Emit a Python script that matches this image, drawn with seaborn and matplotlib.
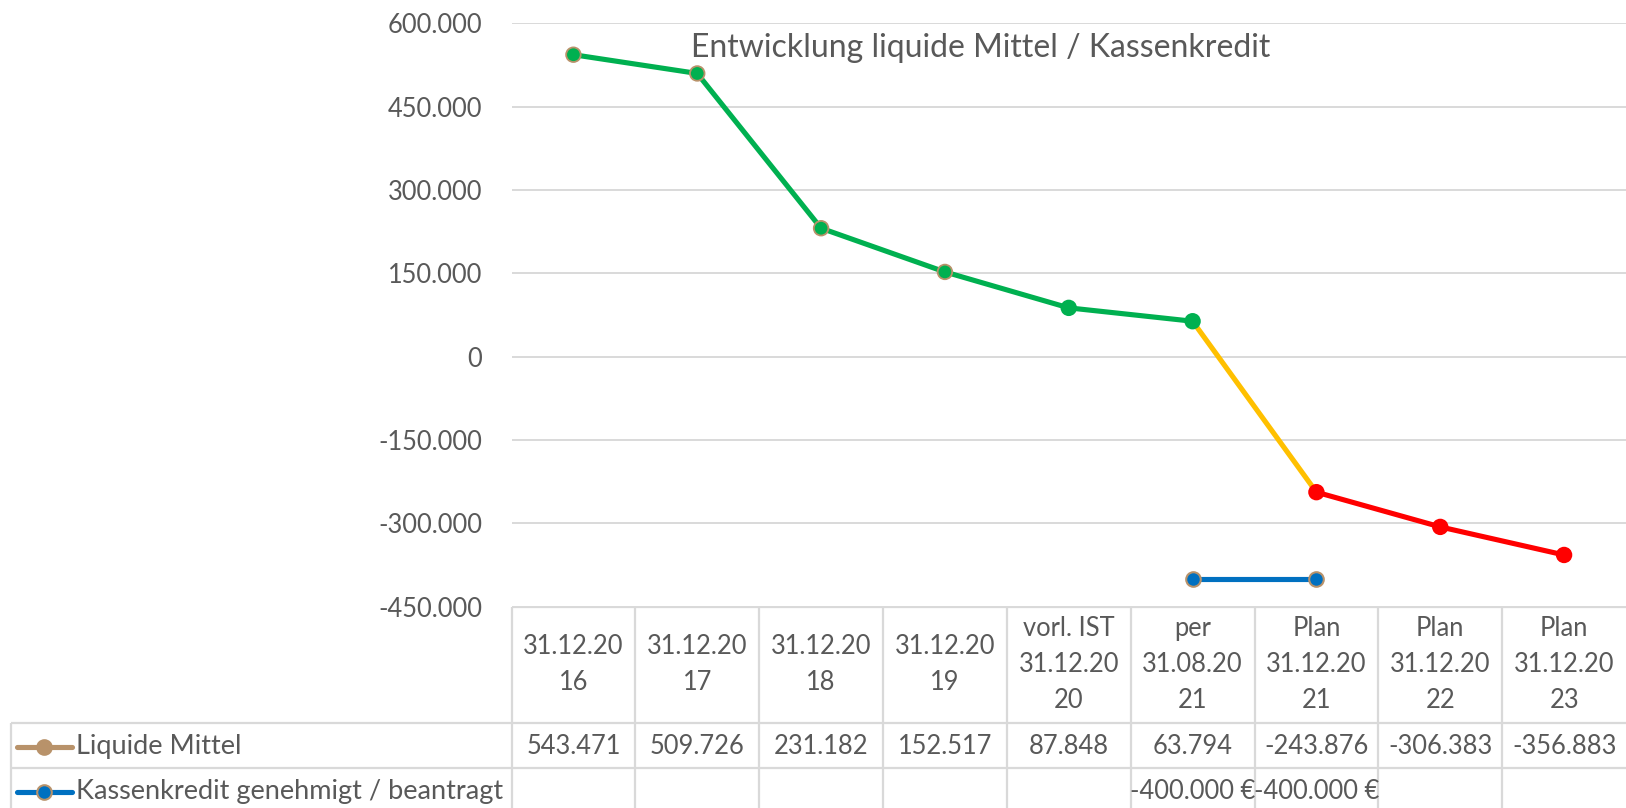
import numpy as np
import pandas as pd
import seaborn as sns
import matplotlib
matplotlib.use("Agg")
import matplotlib.pyplot as plt
from matplotlib.ticker import FuncFormatter, FixedLocator

# ---------------- data ----------------
categories = [
    "31.12.20\n16", "31.12.20\n17", "31.12.20\n18", "31.12.20\n19",
    "vorl. IST\n31.12.20\n20", "per\n31.08.20\n21", "Plan\n31.12.20\n21",
    "Plan\n31.12.20\n22", "Plan\n31.12.20\n23",
]
liquide_mittel = [543471, 509726, 231182, 152517, 87848, 63794, -243876, -306383, -356883]
kassenkredit = [np.nan, np.nan, np.nan, np.nan, np.nan, -400000, -400000, np.nan, np.nan]
series_names = ["Liquide Mittel", "Kassenkredit genehmigt / beantragt"]
y_ticks = [-450000, -300000, -150000, 0, 150000, 300000, 450000, 600000]
title = "Entwicklung liquide Mittel / Kassenkredit"

# ---------------- styles ----------------
GREEN, YELLOW, RED, BLUE, TAN = "#00B050", "#FFC000", "#FF0000", "#0070C0", "#B8926A"
GRID, TXT = "#D9D9D9", "#595959"
FS_NUM = 18.4
FS_TXT = 19.5
segments = [(0, 5, GREEN), (5, 6, YELLOW), (6, 8, RED)]
face_cols = [GREEN] * 6 + [RED] * 3
edge_cols = [TAN] * 4 + [GREEN] * 2 + [RED] * 3

sns.set_theme(style="white")
plt.rcParams["font.family"] = ["Lato", "DejaVu Sans"]

W, H, DPI = 1626, 808, 100
fig = plt.figure(figsize=(W / DPI, H / DPI), dpi=DPI)
fig.patch.set_facecolor("white")

plot_left_px, plot_top_px, plot_bot_px = 511.5, 23.3, 606.7
L = plot_left_px / W
T = 1 - plot_top_px / H
B = 1 - plot_bot_px / H
ax = fig.add_axes([L, B, 1 - L, T - B])

n = len(categories)
idx = np.arange(n)
df = pd.DataFrame({"idx": idx, "liquide": liquide_mittel, "kredit": kassenkredit})

for a, b, col in segments:
    seg = df.iloc[a:b + 1]
    sns.lineplot(data=seg, x="idx", y="liquide", color=col, lw=3.7, ax=ax,
                 zorder=3, solid_capstyle="round")
sns.scatterplot(data=df, x="idx", y="liquide", c=face_cols, edgecolor=edge_cols,
                linewidth=1.3, s=10.5 ** 2, ax=ax, zorder=4)

kr = df.dropna(subset=["kredit"])
sns.lineplot(data=kr, x="idx", y="kredit", color=BLUE, lw=3.7, ax=ax, zorder=3)
sns.scatterplot(data=kr, x="idx", y="kredit", color=BLUE, edgecolor=TAN,
                linewidth=1.5, s=10.5 ** 2, ax=ax, zorder=4)

ax.set_xlim(-0.5, n - 0.5)
ax.set_ylim(min(y_ticks), max(y_ticks))
ax.yaxis.set_major_locator(FixedLocator(y_ticks))
ax.yaxis.set_major_formatter(FuncFormatter(lambda v, p: f"{v:,.0f}".replace(",", ".")))
ax.set_xticks([])
ax.set_xlabel("")
ax.set_ylabel("")
ax.grid(axis="y", color=GRID, lw=1.4)
ax.tick_params(axis="y", length=0, pad=21, labelsize=FS_NUM, labelcolor=TXT)
for s in ax.spines.values():
    s.set_visible(False)
ax.set_axisbelow(True)

fig.text(981 / W, 1 - 56.7 / H, title, ha="center", va="baseline",
         fontsize=23, color=TXT)

# ---------------- data table ----------------
tab_h = H - plot_bot_px
tax = fig.add_axes([0, 0, 1, tab_h / H])
px_per_unit = (W - plot_left_px) / n
xl = -0.5 - plot_left_px / px_per_unit
tax.set_xlim(xl, n - 0.5)
tax.set_ylim(tab_h, 0)
tax.axis("off")


def px2x(px):
    return xl + px / px_per_unit


border_x = px2x(11)
hdr_bot, row1_bot = 723 - plot_bot_px, 768.2 - plot_bot_px
row1_c, row2_c = 746.5 - plot_bot_px, 791.5 - plot_bot_px
lkw = dict(color=GRID, lw=1.6, solid_capstyle="butt")
tax.plot([-0.5, n - 0.5], [0, 0], **lkw)
tax.plot([border_x, n - 0.5], [hdr_bot, hdr_bot], **lkw)
tax.plot([border_x, n - 0.5], [row1_bot, row1_bot], **lkw)
tax.plot([border_x, border_x], [hdr_bot, tab_h + 10], **lkw)
for k in range(n):
    tax.plot([k - 0.5, k - 0.5], [0, tab_h + 10], **lkw)

# header labels
line_gap = 36
for i, lab in enumerate(categories):
    lines = lab.split("\n")
    m = len(lines)
    for j, ln in enumerate(lines):
        yy = hdr_bot / 2 + (j - (m - 1) / 2) * line_gap
        tax.text(i, yy, ln, ha="center", va="center", fontsize=FS_NUM, color=TXT)

fmt = lambda v: f"{v:,.0f}".replace(",", ".")
for i, v in enumerate(liquide_mittel):
    tax.text(i, row1_c, fmt(v), ha="center", va="center", fontsize=FS_NUM, color=TXT)
for i, v in enumerate(kassenkredit):
    if not np.isnan(v):
        tax.text(i, row2_c, fmt(v) + " \u20ac", ha="center", va="center",
                 fontsize=FS_NUM, color=TXT)

# legend keys in the table
for yc, lc, fc, ec, name in [(row1_c, TAN, TAN, TAN, series_names[0]),
                             (row2_c, BLUE, BLUE, TAN, series_names[1])]:
    tax.plot([px2x(17), px2x(72)], [yc, yc], color=lc, lw=3.7, solid_capstyle="round")
    tax.plot([px2x(44)], [yc], marker="o", ms=10.5, mfc=fc, mec=ec, mew=1.5)
    tax.text(px2x(76), yc, name, ha="left", va="center", fontsize=FS_TXT, color=TXT)

fig.savefig("out.png", dpi=DPI, facecolor="white")
